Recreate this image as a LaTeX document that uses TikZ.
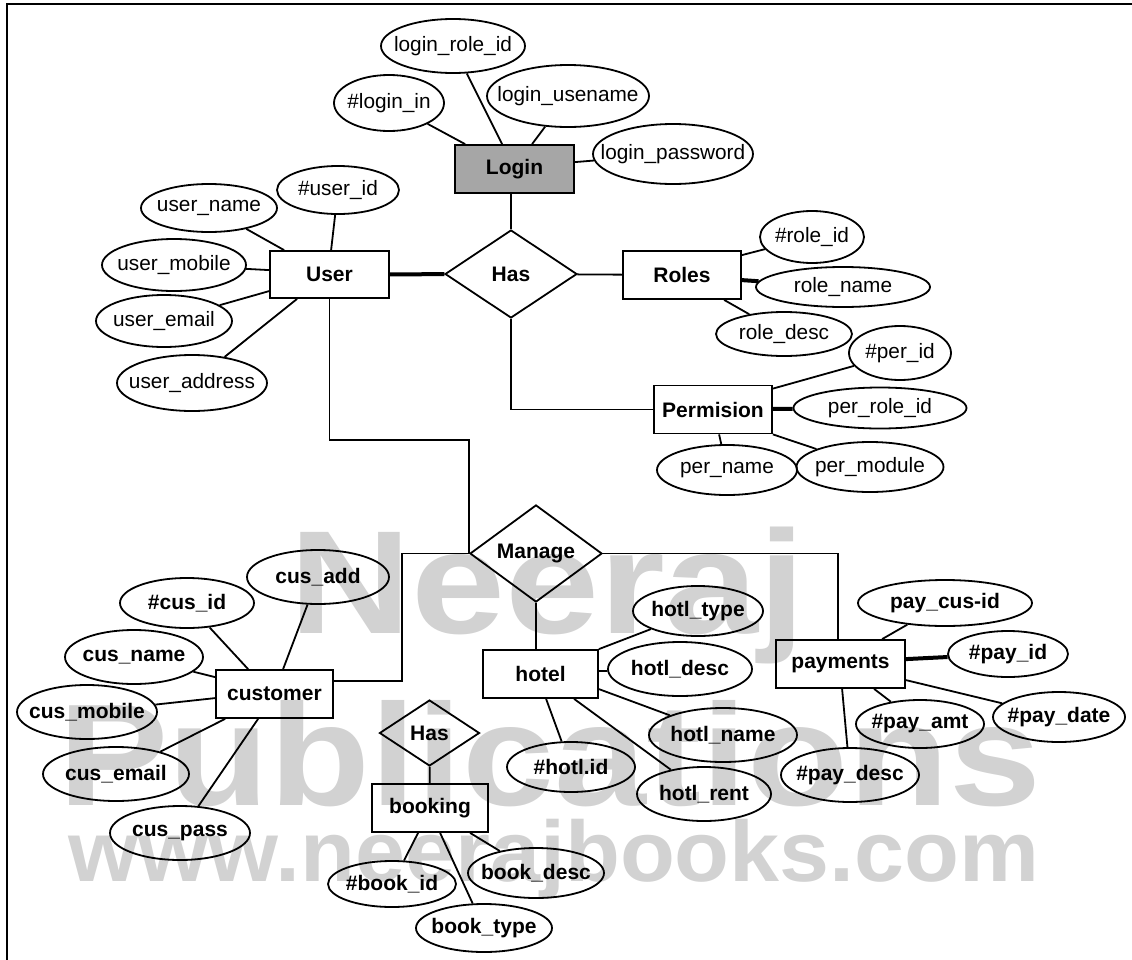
\documentclass[tikz,border=0pt]{standalone}
\usepackage{fontspec}
\setmainfont{Liberation Sans}
\usetikzlibrary{shapes.geometric,calc}
\definecolor{logingray}{RGB}{166,166,166}
\definecolor{wmark}{RGB}{210,210,210}
\newcommand\attrn[7]{\node[attrshape, minimum width=#5bp, minimum height=#6bp, label={[#1]center:#7}] (#2) at (#3,#4) {};}
\begin{document}
\begin{tikzpicture}[x=1bp, y=-1bp, line width=1.8bp,
  entity/.style={draw, rectangle, inner sep=0pt, minimum height=48bp, font=\bfseries\fontsize{21bp}{24bp}\selectfont},
  rel/.style={draw, diamond, inner sep=0pt, font=\bfseries\fontsize{21bp}{24bp}\selectfont},
  attrshape/.style={draw, ellipse, inner sep=0pt},
  reg/.style={font=\fontsize{20.8bp}{24bp}\selectfont, inner sep=0pt},
  bld/.style={font=\bfseries\fontsize{21bp}{24bp}\selectfont, inner sep=0pt},
  key/.style={line width=4bp},
  wm/.style={text=wmark, font=\bfseries\fontsize{#1}{#1}\selectfont, inner sep=0pt, anchor=base west}
]
\useasboundingbox (0,0) rectangle (1132,960);
% watermark
\node[wm=147bp, xscale=1.15] (wm1) at (288,633) {Neeraj};
\node[wm=145bp, xscale=1.14] (wm2) at (57,805) {Publications};
\node[wm=86bp, xscale=1.045] (wm3) at (68,881) {www.neerajbooks.com};
% frame
\draw[line width=2bp] (7,960) -- (7,4) -- (1132,4);
% entities
\node[entity, minimum width=119bp, fill=logingray] (login) at (514.5,169) {Login};
\node[entity, minimum width=119bp, minimum height=47bp] (user) at (329.5,274.5) {User};
\node[entity, minimum width=118bp] (roles) at (682,275) {Roles};
\node[entity, minimum width=118bp] (perm) at (713,409.5) {Permision};
\node[entity, minimum width=117bp] (cust) at (274.5,694) {customer};
\node[entity, minimum width=115bp] (hotel) at (540.5,674) {hotel};
\node[entity, minimum width=116bp] (book) at (430,808) {booking};
\node[entity, minimum width=129bp] (pay) at (840.5,664) {payments};
% relationships
\node[rel, minimum width=132bp, minimum height=88bp] (has1) at (511,274) {Has};
\node[rel, minimum width=132bp, minimum height=89bp] (manage) at (536,553.5) {Manage};
\node[rel, minimum width=100bp, minimum height=66bp] (has2) at (429.5,733) {Has};
% attributes (upper)
\attrn{reg}{lrid}{453}{46}{144}{54}{login\_role\_id}
\attrn{reg}{lin}{389}{103}{110}{56}{\#login\_in}
\attrn{reg}{luse}{568}{96}{162}{62}{login\_usename}
\attrn{reg}{lpw}{673}{154}{160}{60}{login\_password}
\attrn{reg}{uid}{338}{190}{122}{48}{\#user\_id}
\attrn{reg}{uname}{209}{208}{136}{48}{user\_name}
\attrn{reg}{umob}{174}{265}{144}{52}{user\_mobile}
\attrn{reg}{uemail}{164}{321}{136}{52}{user\_email}
\attrn{reg}{uaddr}{192}{383}{150}{56}{user\_address}
\attrn{reg}{rid}{812}{237}{104}{52}{\#role\_id}
\attrn{reg}{rname}{843}{287}{174}{40}{role\_name}
\attrn{reg}{rdesc}{784}{334}{136}{44}{role\_desc}
\attrn{reg}{pid}{900}{353}{102}{54}{\#per\_id}
\attrn{reg}{prole}{880}{408}{173}{41}{per\_role\_id}
\attrn{reg}{pname}{727}{470}{140}{50}{per\_name}
\attrn{reg}{pmod}{870}{467}{147}{50}{per\_module}
% attributes (lower)
\attrn{bld}{cadd}{318}{577}{142}{54}{cus\_add}
\attrn{bld}{cid}{187}{603}{134}{50}{\#cus\_id}
\attrn{bld}{cname}{134}{657}{138}{54}{cus\_name}
\attrn{bld}{cmob}{87}{712}{140}{54}{cus\_mobile}
\attrn{bld}{cemail}{116}{774}{146}{54}{cus\_email}
\attrn{bld}{cpass}{180}{833}{140}{54}{cus\_pass}
\attrn{bld}{bid}{392}{884}{128}{46}{\#book\_id}
\attrn{bld}{btype}{484}{928}{136}{48}{book\_type}
\attrn{bld}{bdesc}{536}{873}{136}{50}{book\_desc}
\attrn{bld}{hid}{571}{767}{128}{50}{\#hotl.id}
\attrn{bld}{htype}{698}{611}{130}{50}{hotl\_type}
\attrn{bld}{hdesc}{680}{669}{144}{54}{hotl\_desc}
\attrn{bld}{hname}{723}{735}{148}{54}{hotl\_name}
\attrn{bld}{hrent}{704}{794}{134}{54}{hotl\_rent}
\attrn{bld}{pcus}{945}{603}{174}{46}{pay\_cus-id}
\attrn{bld}{payid}{1008}{654}{120}{46}{\#pay\_id}
\attrn{bld}{pdate}{1059}{717}{132}{50}{\#pay\_date}
\attrn{bld}{pamt}{920}{724}{128}{48}{\#pay\_amt}
\attrn{bld}{pdesc}{850}{775}{138}{54}{\#pay\_desc}
% connectors (upper)
\draw (lin) -- ($(login.north west)+(11,0)$);
\draw (lrid) -- ($(login.north west)+(48,0)$);
\draw (luse) -- ($(login.north west)+(78,0)$);
\draw (lpw) -- ($(login.north east)+(0,18)$);
\draw (has1.north) -- (has1.north |- login.south);
\draw (uname) -- ($(user.north west)+(15,0)$);
\draw (uid) -- ($(user.north west)+(62,0)$);
\draw (umob) -- ($(user.north west)+(0,20)$);
\draw (uemail) -- ($(user.north west)+(0,41)$);
\draw (uaddr) -- ($(user.south west)+(28,0)$);
\draw[key] (user) -- (has1);
\draw (has1) -- (roles);
\draw (has1.south) |- (perm.west);
\draw (user.south) -- ++(0,141) -| (manage.west);
\draw (rid) -- ($(roles.north east)+(0,5)$);
\draw[key] ($(roles.north east)+(0,30)$) -- (rname);
\draw (rdesc) -- ($(roles.south west)+(102,0)$);
\draw (pid) -- ($(perm.north east)+(0,4)$);
\draw[key] (perm) -- (prole);
\draw (pname) -- ($(perm.south west)+(66,0)$);
\draw (pmod) -- (perm.south east);
% connectors (lower)
\draw (manage.west) -- ++(-67,0) |- ($(cust.north east)+(0,12)$);
\draw (manage.south) -- (manage.south |- hotel.north);
\draw (manage.east) -| ($(pay.north west)+(63,0)$);
\draw (cadd) -- ($(cust.north west)+(68,0)$);
\draw (cid) -- ($(cust.north west)+(33,0)$);
\draw (cname) -- ($(cust.north west)+(0,8)$);
\draw (cmob) -- ($(cust.north west)+(0,29)$);
\draw (cemail) -- ($(cust.south west)+(10,0)$);
\draw (cpass) -- ($(cust.south west)+(43,0)$);
\draw (htype) -- (hotel.north east);
\draw (hdesc) -- ($(hotel.north east)+(0,22)$);
\draw (hname) -- ($(hotel.north east)+(0,40)$);
\draw (hrent) -- ($(hotel.south west)+(92,0)$);
\draw (hid) -- ($(hotel.south west)+(64,0)$);
\draw (has2) -- (book);
\draw (bid) -- ($(book.south west)+(47,0)$);
\draw (btype) -- ($(book.south west)+(69,0)$);
\draw (bdesc) -- ($(book.south west)+(99,0)$);
\draw (pcus) -- ($(pay.north west)+(107,0)$);
\draw[key] ($(pay.north east)+(0,20)$) -- (payid);
\draw (pdate) -- ($(pay.north east)+(0,41)$);
\draw (pamt) -- ($(pay.south west)+(99,0)$);
\draw (pdesc) -- ($(pay.south west)+(67,0)$);
\end{tikzpicture}
\end{document}
